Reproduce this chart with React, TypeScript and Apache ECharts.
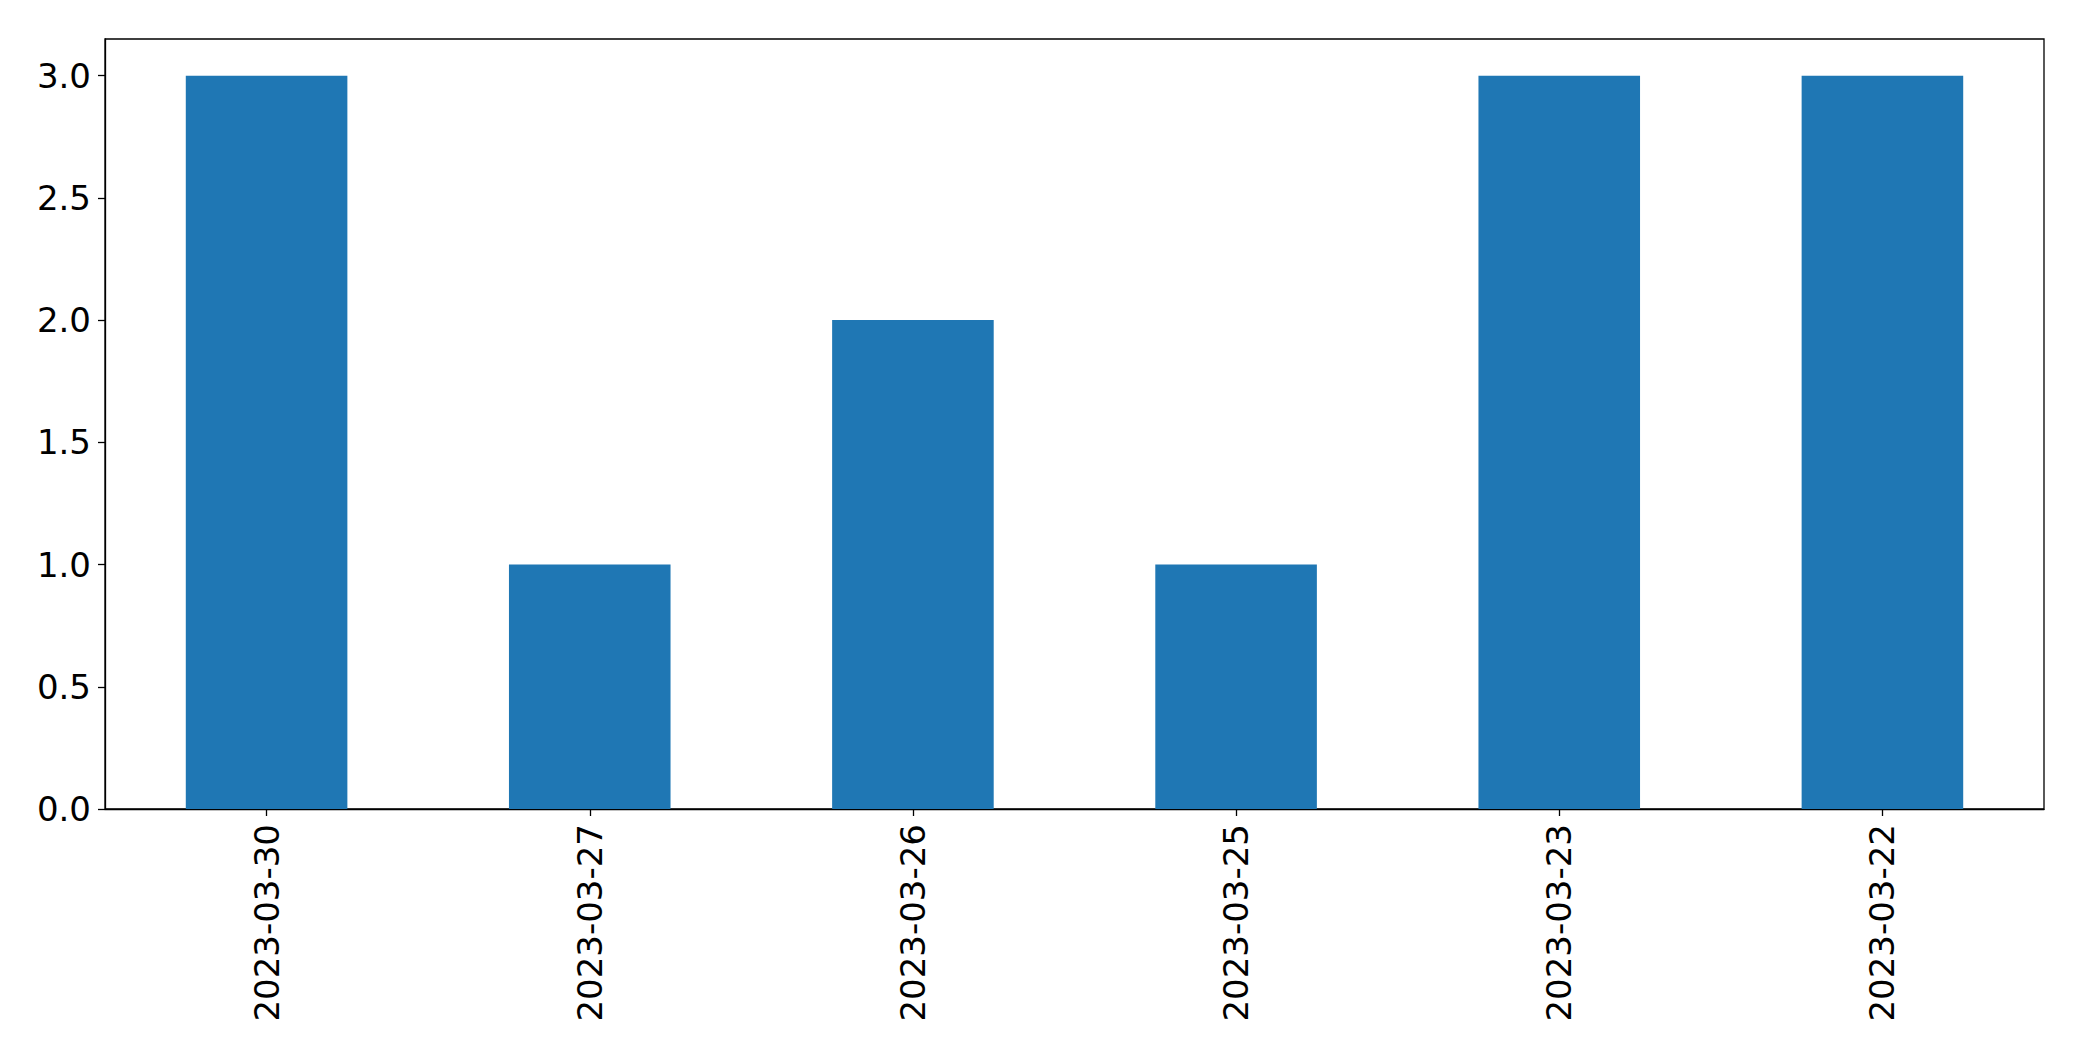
import React, { useEffect, useRef } from "react";
import * as echarts from "echarts";

const categories = ["2023-03-30", "2023-03-27", "2023-03-26", "2023-03-25", "2023-03-23", "2023-03-22"];
const values = [3, 1, 2, 1, 3, 3];
const yTicks = [0, 0.5, 1, 1.5, 2, 2.5, 3];

export default function App() {
  const ref = useRef<HTMLDivElement>(null);
  useEffect(() => {
    if (!ref.current) return;
    const chart = echarts.init(ref.current, null, { renderer: "svg" });
    const font = "DejaVu Sans";
    chart.setOption({
      animation: false,
      backgroundColor: "#ffffff",
      grid: {
        left: 105,
        right: 38,
        top: 39,
        bottom: 252,
        show: true,
        borderColor: "#000000",
        borderWidth: 1.3,
        containLabel: false,
      },
      xAxis: {
        type: "category",
        data: categories,
        boundaryGap: true,
        axisLine: { show: true, lineStyle: { color: "#000", width: 1.3 } },
        axisTick: { show: true, alignWithLabel: true, length: 7, lineStyle: { color: "#000", width: 1.3 } },
        axisLabel: {
          rotate: 90,
          margin: 15,
          color: "#000",
          fontFamily: font,
          fontSize: 34,
          interval: 0,
        },
        splitLine: { show: false },
      },
      yAxis: {
        type: "value",
        min: 0,
        max: 3.15,
        axisLine: { show: true, lineStyle: { color: "#000", width: 1.3 } },
        axisTick: { show: true, length: 7, lineStyle: { color: "#000", width: 1.3 }, customValues: yTicks },
        axisLabel: {
          margin: 14,
          color: "#000",
          fontFamily: font,
          fontSize: 34,
          customValues: yTicks,
          formatter: (v: number) => v.toFixed(1),
        },
        splitLine: { show: false },
      },
      series: [
        {
          type: "bar",
          data: values,
          barWidth: "50%",
          itemStyle: { color: "#1f77b4" },
        },
      ],
    });
    return () => chart.dispose();
  }, []);
  return (
    <div
      ref={ref}
      style={{ position: "fixed", left: 0, top: 0, width: "2082px", height: "1061px", background: "#fff" }}
    />
  );
}
